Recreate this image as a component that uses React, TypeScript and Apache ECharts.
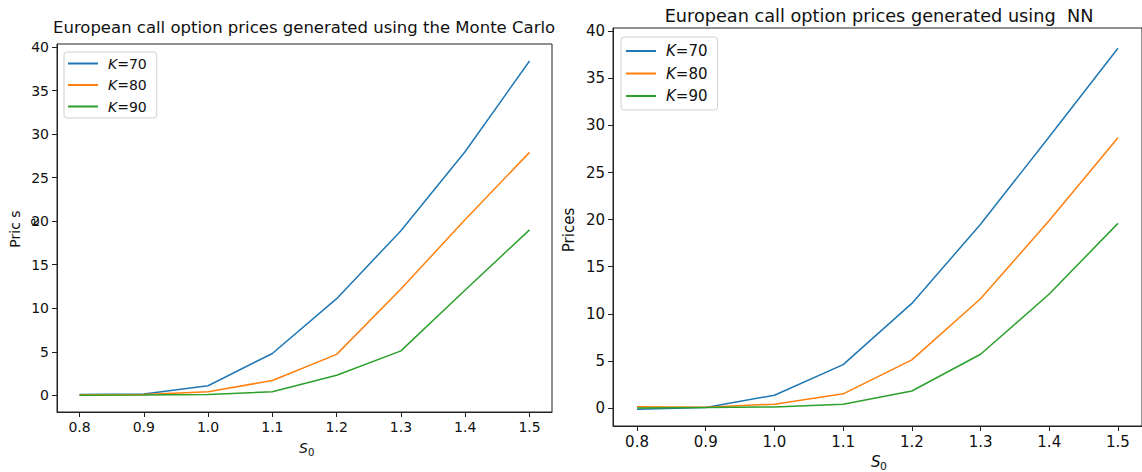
import React, { useEffect, useRef } from "react";
import * as echarts from "echarts";

const xValues = [0.8, 0.9, 1.0, 1.1, 1.2, 1.3, 1.4, 1.5];
const seriesNames = ["K=70", "K=80", "K=90"];
const mcK70 = [0.1, 0.15, 1.1, 4.8, 11.1, 18.9, 28.0, 38.4];
const mcK80 = [0.05, 0.08, 0.4, 1.7, 4.7, 12.2, 20.2, 27.9];
const mcK90 = [0.0, 0.02, 0.1, 0.4, 2.3, 5.1, 12.1, 19.0];
const nnK70 = [-0.15, 0.05, 1.35, 4.6, 11.1, 19.5, 28.8, 38.2];
const nnK80 = [0.12, 0.08, 0.4, 1.5, 5.1, 11.6, 19.9, 28.7];
const nnK90 = [0.0, 0.05, 0.1, 0.4, 1.8, 5.7, 12.1, 19.6];
const yTicks = [0, 5, 10, 15, 20, 25, 30, 35, 40];
const colors = ["#1f77b4", "#ff7f0e", "#2ca02c"];
const FONT = "DejaVu Sans";

export default function App() {
  const ref = useRef<HTMLDivElement>(null);
  useEffect(() => {
    if (!ref.current) return;
    const chart = echarts.init(ref.current, null, { renderer: "svg" });

    const mkX = (gi: number, fs: number) => ({
      type: "value",
      gridIndex: gi,
      min: 0.765,
      max: 1.535,
      splitLine: { show: false },
      axisLine: { show: true, onZero: false, lineStyle: { color: "#222", width: 1 } },
      axisTick: { show: true, customValues: xValues, length: 5, lineStyle: { color: "#222" } },
      axisLabel: {
        customValues: xValues,
        formatter: (v: number) => v.toFixed(1),
        color: "#111",
        fontFamily: FONT,
        fontSize: fs,
        margin: 8,
      },
    });
    const mkY = (gi: number, fs: number) => ({
      type: "value",
      gridIndex: gi,
      min: -1.92,
      max: 40.35,
      splitLine: { show: false },
      axisLine: { show: true, onZero: false, lineStyle: { color: "#222", width: 1 } },
      axisTick: { show: true, customValues: yTicks, length: 5, lineStyle: { color: "#222" } },
      axisLabel: {
        customValues: yTicks,
        color: "#111",
        fontFamily: FONT,
        fontSize: fs,
        margin: 8,
      },
    });
    const mkSeries = (gi: number, arrs: number[][]) =>
      arrs.map((a, i) => ({
        type: "line",
        name: seriesNames[i],
        xAxisIndex: gi,
        yAxisIndex: gi,
        data: xValues.map((x, j) => [x, a[j]]),
        symbol: "none",
        showSymbol: false,
        color: colors[i],
        lineStyle: { width: 1.5, color: colors[i] },
      }));
    const mkLegend = (left: number, top: number, fs: number, lh: number, gap: number, pad: number[]) => ({
      orient: "vertical",
      left,
      top,
      data: seriesNames,
      icon: "rect",
      itemWidth: 30,
      itemHeight: 2,
      itemGap: gap,
      padding: pad,
      backgroundColor: "#fff",
      borderColor: "#d0d0d0",
      borderWidth: 1,
      borderRadius: 3,
      formatter: (n: string) => "{i|K}" + n.slice(1),
      textStyle: {
        fontFamily: FONT,
        fontSize: fs,
        color: "#111",
        lineHeight: lh,
        padding: [0, 0, 0, 5],
        rich: { i: { fontStyle: "italic", fontFamily: FONT, fontSize: fs, color: "#111", lineHeight: lh } },
      },
    });

    const sLabel = (cx: number, cy: number, fs: number) => [
      { type: "text", left: cx - 6, top: cy - fs / 2 - 1, style: { text: "S", fontFamily: FONT, fontStyle: "italic", fontSize: fs, fill: "#111" } },
      { type: "text", left: cx + 3, top: cy - fs / 2 + 5, style: { text: "0", fontFamily: FONT, fontSize: fs * 0.72, fill: "#111" } },
    ];

    chart.setOption({
      animation: false,
      backgroundColor: "#fff",
      grid: [
        { left: 57, top: 44, width: 495, bottom: 60, show: true, borderColor: "#222", borderWidth: 1, backgroundColor: "transparent" },
        { left: 613, top: 28, right: -1, bottom: 46, show: true, borderColor: "#222", borderWidth: 1, backgroundColor: "transparent" },
      ],
      xAxis: [mkX(0, 14), mkX(1, 15)],
      yAxis: [mkY(0, 14), mkY(1, 15)],
      legend: [
        mkLegend(64, 52, 14, 15, 6.5, [4, 10, 4, 4]),
        mkLegend(621, 37, 15, 16, 6.5, [6, 10, 6, 5]),
      ],
      series: [...mkSeries(0, [mcK70, mcK80, mcK90]), ...mkSeries(1, [nnK70, nnK80, nnK90])],
      graphic: [
        { type: "text", left: 53, top: 19, style: { text: "European call option prices generated using the Monte Carlo", fontFamily: FONT, fontSize: 16.5, fill: "#111" } },
        { type: "text", x: 879, y: 16, style: { text: "European call option prices generated using  NN", fontFamily: FONT, fontSize: 17.7, fill: "#111", align: "center", verticalAlign: "middle" } },
        { type: "text", x: 15, y: 229, rotation: Math.PI / 2, style: { text: "Pric s", fontFamily: FONT, fontSize: 14, fill: "#111", align: "center", verticalAlign: "middle" } },
        { type: "text", x: 34, y: 222, rotation: Math.PI / 2, style: { text: "e", fontFamily: FONT, fontSize: 14, fill: "#111", align: "center", verticalAlign: "middle" } },
        { type: "text", x: 569, y: 230, rotation: Math.PI / 2, style: { text: "Prices", fontFamily: FONT, fontSize: 15, fill: "#111", align: "center", verticalAlign: "middle" } },
        ...sLabel(305, 449, 14),
        ...sLabel(877, 463, 15),
      ],
    });
    return () => chart.dispose();
  }, []);
  return <div ref={ref} style={{ position: "fixed", left: 0, top: 0, width: 1142, height: 472 }} />;
}
